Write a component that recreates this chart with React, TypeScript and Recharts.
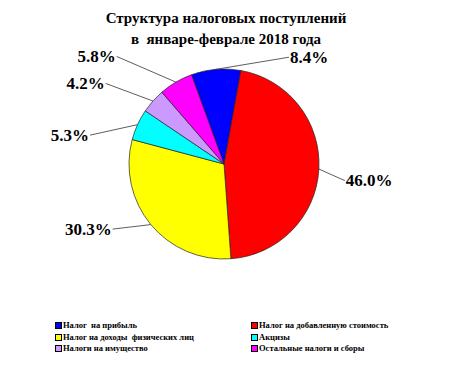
import React from "react";
import { PieChart, Pie, Cell, Legend } from "recharts";

const categories = [
  "Налог  на прибыль",
  "Налог на добавленную стоимость",
  "Налог на доходы  физических лиц",
  "Акцизы",
  "Налоги на имущество",
  "Остальные налоги и сборы",
];
const shares = [8.4, 46.0, 30.3, 5.3, 4.2, 5.8];
const sliceColors = ["#0000ff", "#ff0000", "#ffff00", "#00ffff", "#cc99ff", "#ff00ff"];
const titleLines = ["Структура налоговых поступлений", "в  январе-феврале 2018 года"];

// label placement: angular offset (deg, math direction) and distance from centre
const labelAngleOffset = [-36.2, -4.8, -9.3, 12.3, 7.3, 14.5];
const labelRadius = [125, 122, 129, 137, 143, 152];

const data = categories.map((name, i) => ({ name, value: shares[i] }));

const FONT = "'Liberation Serif', 'Times New Roman', serif";
const RAD = Math.PI / 180;

const renderLabel = (props: any) => {
  const { cx, cy, midAngle, outerRadius, index, value } = props;
  const a0 = midAngle * RAD;
  const x0 = cx + outerRadius * Math.cos(-a0);
  const y0 = cy + outerRadius * Math.sin(-a0);
  const a1 = (midAngle + labelAngleOffset[index]) * RAD;
  const r1 = labelRadius[index];
  const x1 = cx + r1 * Math.cos(-a1);
  const y1 = cy + r1 * Math.sin(-a1);
  const right = x1 > cx;
  return (
    <g key={`lbl-${index}`}>
      <line x1={x0} y1={y0} x2={x1} y2={y1} stroke="#333" strokeWidth={0.8} />
      <text
        x={right ? x1 + 1 : x1 - 1}
        y={y1}
        textAnchor={right ? "start" : "end"}
        dominantBaseline="central"
        fontFamily={FONT}
        fontWeight="bold"
        fontSize={17}
        fill="#000"
      >
        {`${Number(value).toFixed(1)}%`}
      </text>
    </g>
  );
};

const renderLegend = () => (
  <div
    style={{
      display: "grid",
      gridTemplateColumns: "196px 180px",
      rowGap: 0,
      fontFamily: FONT,
      fontWeight: "bold",
      fontSize: 8.5,
      lineHeight: "11.5px",
      color: "#000",
    }}
  >
    {categories.map((name, i) => (
      <div key={name} style={{ display: "flex", alignItems: "center", whiteSpace: "pre" }}>
        <span
          style={{
            display: "inline-block",
            width: 5,
            height: 5,
            background: sliceColors[i],
            border: "0.5px solid #000",
            marginRight: 1,
          }}
        />
        <span>{name}</span>
      </div>
    ))}
  </div>
);

export default function App() {
  return (
    <div style={{ position: "relative", width: 442, height: 364, background: "#fff" }}>
      <div
        style={{
          position: "absolute",
          left: 0,
          top: 0,
          width: 436,
          textAlign: "center",
          fontFamily: FONT,
          fontWeight: "bold",
          fontSize: 15,
          lineHeight: "21px",
          color: "#000",
          whiteSpace: "pre",
          zIndex: 2,
        }}
      >
        <div>{titleLines[0]}</div>
        <div>{titleLines[1]}</div>
      </div>
      <PieChart width={442} height={364} margin={{ top: 0, right: 0, bottom: 0, left: 0 }}>
        <Pie
          data={data}
          dataKey="value"
          nameKey="name"
          cx={216}
          cy={156}
          outerRadius={95}
          startAngle={110}
          endAngle={-250}
          stroke="#222"
          strokeWidth={0.7}
          label={renderLabel}
          labelLine={false}
          isAnimationActive={false}
        >
          {data.map((d, i) => (
            <Cell key={d.name} fill={sliceColors[i]} />
          ))}
        </Pie>
        <Legend
          content={renderLegend}
          wrapperStyle={{ position: "absolute", left: 47, top: 312, width: 390 }}
        />
      </PieChart>
    </div>
  );
}
